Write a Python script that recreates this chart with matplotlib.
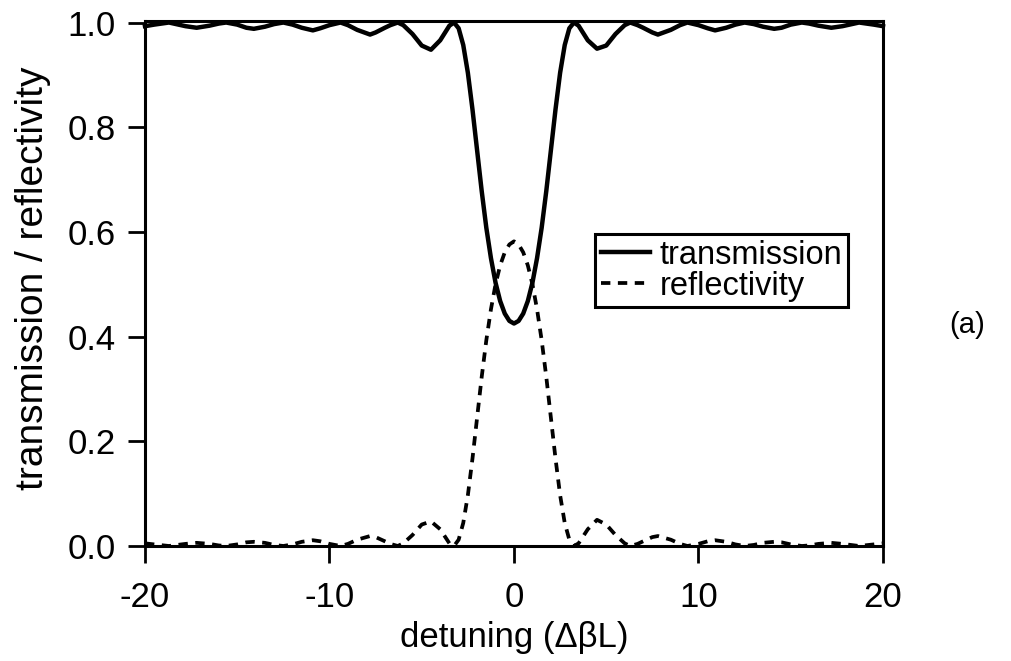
import matplotlib
matplotlib.use("Agg")
import matplotlib.pyplot as plt
from matplotlib.ticker import FormatStrFormatter

plt.rcParams['font.family'] = ['Liberation Sans', 'DejaVu Sans']
plt.rcParams['axes.unicode_minus'] = False

# detuning values
detuning = [-20, -19.5, -18.7, -17.8, -17.2, -16.5, -16, -15.6, -15, -14.5, -14.1,
            -13.5, -13, -12.5, -12, -11.5, -10.9, -10.5, -10, -9.4, -9, -8.5,
            -7.8, -7.5, -7, -6.7, -6.3, -6, -5.5, -5, -4.5, -4, -3.5, -3.25, -3,
            -2.75, -2.5, -2.25, -2, -1.75, -1.5, -1.25, -1, -0.75, -0.5, -0.25,
            0,
            0.25, 0.5, 0.75, 1, 1.25, 1.5, 1.75, 2, 2.25, 2.5, 2.75, 3, 3.25,
            3.5, 4, 4.5, 5, 5.5, 6, 6.3, 6.7, 7, 7.5, 7.8, 8.5, 9, 9.4, 10,
            10.5, 10.9, 11.5, 12, 12.5, 13, 13.5, 14.1, 14.5, 15, 15.6, 16,
            16.5, 17.2, 17.8, 18.7, 19.5, 20]

transmission = [0.993, 0.996, 1.000, 0.993, 0.990, 0.994, 0.998, 1.000, 0.996,
                0.990, 0.988, 0.992, 0.997, 1.000, 0.996, 0.990, 0.985, 0.989,
                0.995, 1.000, 0.995, 0.986, 0.977, 0.981, 0.990, 0.995, 1.000,
                0.995, 0.978, 0.956, 0.948, 0.966, 0.994, 1.000, 0.989, 0.957,
                0.904, 0.834, 0.756, 0.678, 0.608, 0.550, 0.503, 0.468, 0.444,
                0.430,
                0.425,
                0.430, 0.444, 0.468, 0.503, 0.550, 0.608, 0.678, 0.756, 0.834,
                0.904, 0.957, 0.989, 1.000, 0.994, 0.966, 0.950, 0.956, 0.978,
                0.995, 1.000, 0.995, 0.990, 0.981, 0.977, 0.986, 0.995, 1.000,
                0.995, 0.989, 0.985, 0.990, 0.996, 1.000, 0.997, 0.992, 0.988,
                0.990, 0.996, 1.000, 0.998, 0.994, 0.990, 0.993, 1.000, 0.996,
                0.993]

reflectivity = [0.005, 0.003, 0.000, 0.004, 0.006, 0.004, 0.001, 0.000, 0.003,
                0.007, 0.008, 0.006, 0.002, 0.000, 0.003, 0.008, 0.011, 0.009,
                0.004, 0.000, 0.004, 0.012, 0.019, 0.017, 0.009, 0.004, 0.000,
                0.005, 0.021, 0.041, 0.047, 0.032, 0.005, 0.000, 0.012, 0.044,
                0.097, 0.167, 0.245, 0.323, 0.393, 0.452, 0.500, 0.536, 0.561,
                0.576,
                0.582,
                0.576, 0.561, 0.536, 0.500, 0.452, 0.393, 0.323, 0.245, 0.167,
                0.097, 0.044, 0.012, 0.000, 0.005, 0.032, 0.050, 0.041, 0.021,
                0.005, 0.000, 0.004, 0.009, 0.017, 0.019, 0.012, 0.004, 0.000,
                0.004, 0.009, 0.011, 0.008, 0.003, 0.000, 0.002, 0.006, 0.008,
                0.007, 0.003, 0.000, 0.001, 0.004, 0.006, 0.004, 0.000, 0.003,
                0.005]

x_ticks = [-20, -10, 0, 10, 20]
y_ticks = [0.0, 0.2, 0.4, 0.6, 0.8, 1.0]

fig = plt.figure(figsize=(10.11, 6.61), dpi=100)
ax = fig.add_axes([0.1434, 0.1740, 0.7300, 0.7943])

ax.plot(detuning, transmission, color='black', lw=3.2, label='transmission',
        clip_on=False, solid_joinstyle='round')
ax.plot(detuning, reflectivity, color='black', lw=2.7, ls=(0, (2.5, 2.0)),
        label='reflectivity', clip_on=False)

ax.set_xlim(-20, 20)
ax.set_ylim(0, 1.003)
ax.set_xticks(x_ticks)
ax.set_yticks(y_ticks)
ax.yaxis.set_major_formatter(FormatStrFormatter('%.1f'))
ax.tick_params(direction='out', length=12, width=2, labelsize=25)
ax.tick_params(axis='x', pad=13)
ax.tick_params(axis='y', pad=9)
for s in ax.spines.values():
    s.set_linewidth(2.2)

ax.set_xlabel('detuning (\u0394\u03b2L)', fontsize=25, labelpad=5)
ax.set_ylabel('transmission / reflectivity', fontsize=28)
ax.yaxis.set_label_coords(-0.128, 0.51)

leg = ax.legend(loc='upper left', bbox_to_anchor=(0.610, 0.594),
                borderaxespad=0, fontsize=23.5, frameon=True, fancybox=False,
                framealpha=1, edgecolor='black', handlelength=1.5,
                handletextpad=0.3, borderpad=0.17, labelspacing=0.0)
leg.get_frame().set_linewidth(2.2)

fig.text(0.957, 0.508, '(a)', fontsize=21, ha='center', va='center')

plt.savefig('out.png', dpi=100)
